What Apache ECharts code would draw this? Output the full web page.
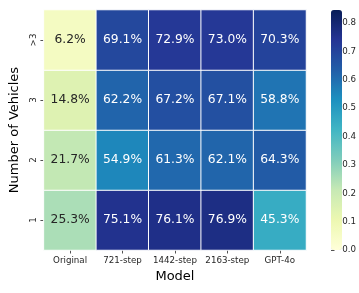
<!DOCTYPE html>
<html><head><meta charset="utf-8">
<script src="https://cdn.jsdelivr.net/npm/echarts@6/dist/echarts.min.js"></script>
<style>html,body{margin:0;padding:0;background:#fff}#c{width:359px;height:293px}</style>
</head><body><div id="c"></div>
<script>
const models = ['Original', '721-step', '1442-step', '2163-step', 'GPT-4o'];
const vehicles = ['1', '2', '3', '>3'];
const row1 = [25.3, 75.1, 76.1, 76.9, 45.3];
const row2 = [21.7, 54.9, 61.3, 62.1, 64.3];
const row3 = [14.8, 62.2, 67.2, 67.1, 58.8];
const rowGt3 = [6.2, 69.1, 72.9, 73.0, 70.3];
const colorbarTicks = [0, 0.1, 0.2, 0.3, 0.4, 0.5, 0.6, 0.7, 0.8];
const colorMax = 0.846;
const ylgnbu = ['#ffffd9','#edf8b1','#c7e9b4','#7fcdbb','#41b6c4','#1d91c0','#225ea8','#253494','#081d58'];

const rows = [row1, row2, row3, rowGt3];
const data = [];
rows.forEach((r, yi) => r.forEach((v, xi) => {
  data.push({value: [xi, yi, v / 100], label: {color: v < 35 ? '#262626' : '#ffffff'}});
}));
const font = 'DejaVu Sans';
const chart = echarts.init(document.getElementById('c'), null, {renderer: 'canvas'});
chart.setOption({
  animation: false,
  textStyle: {fontFamily: font},
  grid: [
    {left: 43, top: 10, width: 263, height: 240},
    {left: 331, top: 10, width: 11, height: 240}
  ],
  xAxis: [
    {type: 'category', data: models, gridIndex: 0,
     axisLine: {show: false}, axisTick: {show: true, length: 3.5, alignWithLabel: true, lineStyle: {color: '#262626', width: 0.8}},
     axisLabel: {interval: 0, fontSize: 8.7, color: '#262626', margin: 6, fontFamily: font},
     name: 'Model', nameLocation: 'middle', nameGap: 18, nameTextStyle: {fontSize: 13, color: '#000', fontFamily: font},
     splitLine: {show: false}},
    {type: 'value', gridIndex: 1, show: false, min: 0, max: 1}
  ],
  yAxis: [
    {type: 'category', data: vehicles, gridIndex: 0,
     axisLine: {show: false}, axisTick: {show: true, length: 3.5, alignWithLabel: true, lineStyle: {color: '#262626', width: 0.8}},
     axisLabel: {interval: 0, fontSize: 8.7, color: '#262626', margin: 6, rotate: 90, fontFamily: font},
     name: 'Number of Vehicles', nameLocation: 'middle', nameGap: 22, nameRotate: 90,
     nameTextStyle: {fontSize: 13, color: '#000', fontFamily: font},
     splitLine: {show: false}},
    {type: 'value', gridIndex: 1, position: 'right', min: 0, max: colorMax,
     axisLine: {show: false},
     axisTick: {show: true, length: 3.5, lineStyle: {color: '#262626', width: 0.8}, customValues: colorbarTicks},
     axisLabel: {fontSize: 8.7, color: '#262626', margin: 7, fontFamily: font, customValues: colorbarTicks,
                 formatter: v => v.toFixed(1)},
     splitLine: {show: false}}
  ],
  visualMap: {
    type: 'continuous', min: 0, max: colorMax, seriesIndex: 0,
    left: 331, top: 10, itemWidth: 11, itemHeight: 240, padding: 0,
    calculable: false, hoverLink: false, text: null, showLabel: false,
    inRange: {color: ylgnbu}
  },
  series: [
    {type: 'heatmap', xAxisIndex: 0, yAxisIndex: 0, data: data,
     itemStyle: {borderColor: '#ffffff', borderWidth: 1},
     label: {show: true, fontSize: 12.3, fontFamily: font,
             formatter: p => (p.value[2] * 100).toFixed(1) + '%'}},
    {type: 'line', xAxisIndex: 1, yAxisIndex: 1, data: [], silent: true}
  ]
});
</script></body></html>
